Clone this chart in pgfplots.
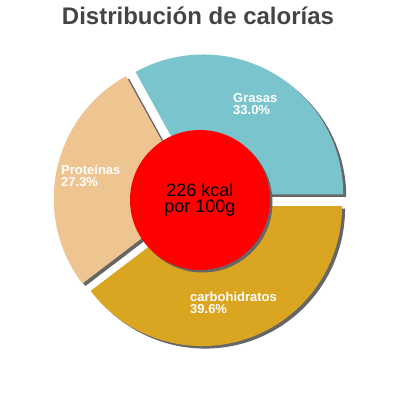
\documentclass[border=0pt]{standalone}
\usepackage{pgfplots}
\pgfplotsset{compat=1.18}
\usepackage{pgfplotstable}
\usepackage{fontspec}
\setmainfont{Liberation Sans}
\definecolor{cGras}{HTML}{7AC5CD}
\definecolor{cProt}{HTML}{EEC591}
\definecolor{cCarb}{HTML}{DAA520}
\definecolor{cShadow}{HTML}{666666}
\definecolor{cTitle}{HTML}{444444}
\pgfplotstableread{
name pct
Grasas 33.0
Proteinas 27.3
carbohidratos 39.6
}\caltable
\begin{document}
\begin{tikzpicture}
\pgfplotstablegetelem{0}{pct}\of\caltable \let\pG\pgfplotsretval
\pgfplotstablegetelem{1}{pct}\of\caltable \let\pP\pgfplotsretval
\pgfplotstablegetelem{2}{pct}\of\caltable \let\pC\pgfplotsretval
\pgfmathsetmacro\tot{\pG+\pP+\pC}
\pgfmathsetmacro\aA{\pG/\tot*360}
\pgfmathsetmacro\aB{\aA+\pP/\tot*360}
\pgfmathsetmacro\aC{360}
\pgfmathsetmacro\mA{\aA/2}
\pgfmathsetmacro\mB{(\aA+\aB)/2}
\pgfmathsetmacro\mC{(\aB+\aC)/2}
\def\R{140pt}
\def\ex{6.4}
\begin{axis}[x=1pt,y=1pt,xmin=-200,xmax=200,ymin=-200,ymax=200,
  hide axis,clip=false,scale only axis]
\path (rel axis cs:0,0) rectangle (rel axis cs:1,1);
% shadows
\begin{scope}[xshift=3pt,yshift=-2.5pt]
\fill[cShadow] (axis cs:{\ex*cos(\mA)},{\ex*sin(\mA)}) -- ++(0:\R) arc[start angle=0,end angle=\aA,radius=\R] -- cycle;
\fill[cShadow] (axis cs:{\ex*cos(\mB)},{\ex*sin(\mB)}) -- ++(\aA:\R) arc[start angle=\aA,end angle=\aB,radius=\R] -- cycle;
\fill[cShadow] (axis cs:{\ex*cos(\mC)},{\ex*sin(\mC)}) -- ++(\aB:\R) arc[start angle=\aB,end angle=\aC,radius=\R] -- cycle;
\end{scope}
% slices
\fill[cGras] (axis cs:{\ex*cos(\mA)},{\ex*sin(\mA)}) -- ++(0:\R) arc[start angle=0,end angle=\aA,radius=\R] -- cycle;
\fill[cProt] (axis cs:{\ex*cos(\mB)},{\ex*sin(\mB)}) -- ++(\aA:\R) arc[start angle=\aA,end angle=\aB,radius=\R] -- cycle;
\fill[cCarb] (axis cs:{\ex*cos(\mC)},{\ex*sin(\mC)}) -- ++(\aB:\R) arc[start angle=\aB,end angle=\aC,radius=\R] -- cycle;
% centre
\fill[cShadow] ([xshift=2.5pt,yshift=-2.5pt]axis cs:0,0) circle[radius=70pt];
\fill[red] (axis cs:0,0) circle[radius=70pt];
% labels
\begin{scope}[every node/.style={inner sep=0pt,anchor=base west,text=white,font=\bfseries\fontsize{13}{13}\selectfont}]
\node at (axis cs:33,97.5) {Grasas};
\node at (axis cs:33,85.5) {33.0\%};
\node at (axis cs:-139,25.5) {Proteínas};
\node at (axis cs:-139,13.5) {27.3\%};
\node at (axis cs:-10,-101.5) {carbohidratos};
\node at (axis cs:-10,-113.5) {39.6\%};
\end{scope}
\begin{scope}[every node/.style={inner sep=0pt,anchor=base,text=black,font=\fontsize{18}{18}\selectfont}]
\node at (axis cs:0,4) {226 kcal};
\node at (axis cs:0,-13) {por 100g};
\end{scope}
\node[inner sep=0pt,anchor=base,text=cTitle,font=\bfseries\fontsize{24}{24}\selectfont] at (axis cs:-2,175) {Distribución de calorías};
\end{axis}
\end{tikzpicture}
\end{document}
